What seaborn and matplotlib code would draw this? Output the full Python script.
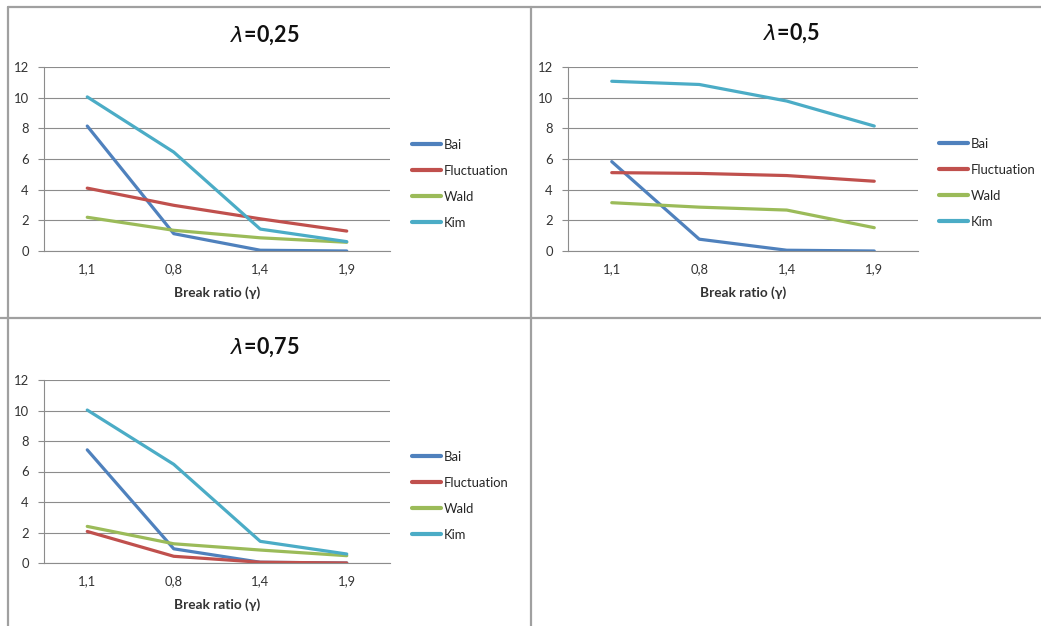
import numpy as np
import pandas as pd
import matplotlib
matplotlib.use("Agg")
import matplotlib.pyplot as plt
from matplotlib.lines import Line2D
import seaborn as sns

# Break ratio categories (x axis) and estimated values per method, one set per lambda
ratios = ["1,1", "0,8", "1,4", "1,9"]
methods = ["Bai", "Fluctuation", "Wald", "Kim"]

bai_025 = [8.15, 1.13, 0.05, 0.0]
fluct_025 = [4.1, 2.98, 2.1, 1.3]
wald_025 = [2.2, 1.35, 0.86, 0.57]
kim_025 = [10.05, 6.45, 1.43, 0.61]

bai_050 = [5.83, 0.77, 0.05, 0.0]
fluct_050 = [5.11, 5.06, 4.92, 4.55]
wald_050 = [3.15, 2.86, 2.67, 1.52]
kim_050 = [11.07, 10.86, 9.78, 8.15]

bai_075 = [7.42, 0.93, 0.05, 0.0]
fluct_075 = [2.07, 0.44, 0.05, 0.0]
wald_075 = [2.4, 1.26, 0.85, 0.48]
kim_075 = [10.03, 6.47, 1.42, 0.59]

panel_titles = ["0,25", "0,5", "0,75"]
panel_series = [
    [bai_025, fluct_025, wald_025, kim_025],
    [bai_050, fluct_050, wald_050, kim_050],
    [bai_075, fluct_075, wald_075, kim_075],
]
y_ticks = [0, 2, 4, 6, 8, 10, 12]

palette = {"Bai": "#4F81BD", "Fluctuation": "#C0504D", "Wald": "#9BBB59", "Kim": "#4BACC6"}

sns.set_theme(style="white")
plt.rcParams["font.family"] = ["Lato", "DejaVu Sans"]
plt.rcParams["mathtext.fontset"] = "dejavusans"

W, H = 1041, 626
fig = plt.figure(figsize=(W / 100, H / 100), dpi=100)
fig.patch.set_facecolor("white")


def fx(px):
    return px / W


def fy(py):
    return 1 - py / H


# axes box (left, right, top, bottom) in pixels, plus title centre and legend anchor
layouts = [
    dict(l=44, r=390, t=67, b=251, title=(265, 35), leg=(412, 139)),
    dict(l=568, r=918, t=67, b=251, title=(792, 33), leg=(939, 138)),
    dict(l=44, r=390, t=380, b=563, title=(265, 347), leg=(412, 451)),
]

grid_col = "#8C8C8C"
text_col = "#333333"
fs = 9.4

for lay, ttl, series in zip(layouts, panel_titles, panel_series):
    ax = fig.add_axes([fx(lay["l"]), fy(lay["b"]), fx(lay["r"] - lay["l"]), (lay["b"] - lay["t"]) / H])
    df = pd.DataFrame({
        "ratio": np.tile(ratios, len(methods)),
        "method": np.repeat(methods, len(ratios)),
        "value": np.concatenate(series),
    })
    sns.lineplot(data=df, x="ratio", y="value", hue="method", hue_order=methods,
                 palette=palette, sort=False, linewidth=2.3, ax=ax, legend=True)
    ax.set_xlim(-0.5, 3.5)
    ax.set_ylim(0, 12)
    ax.set_yticks(y_ticks)
    ax.set_yticklabels([str(v) for v in y_ticks], fontsize=fs, color=text_col)
    ax.set_xticks(range(len(ratios)))
    ax.set_xticklabels(ratios, fontsize=fs, color=text_col)
    ax.set_xticks(np.arange(-0.5, 4.0, 1.0), minor=True)
    ax.tick_params(axis="x", which="major", length=0, pad=9)
    ax.tick_params(axis="x", which="minor", length=4, width=0.8, color=grid_col, direction="out")
    ax.tick_params(axis="y", which="major", length=4, width=0.8, color=grid_col, direction="out", pad=7, left=True)
    ax.yaxis.grid(True, color=grid_col, linewidth=0.8)
    ax.set_axisbelow(True)
    for side in ("top", "right"):
        ax.spines[side].set_visible(False)
    for side in ("left", "bottom"):
        ax.spines[side].set_color(grid_col)
        ax.spines[side].set_linewidth(0.8)
    ax.set_ylabel("")
    ax.set_xlabel("Break ratio (\u03b3)", fontsize=9.8, fontweight="bold", color=text_col)
    ax.xaxis.label.set_va("center")
    ax.xaxis.set_label_coords(0.5, -42 / (lay["b"] - lay["t"]))

    handles = [Line2D([0], [0], color=palette[m], linewidth=3) for m in methods]
    ax.legend(handles, methods, loc="upper left",
              bbox_to_anchor=(fx(lay["leg"][0]), fy(lay["leg"][1])),
              bbox_transform=fig.transFigure, frameon=False, fontsize=fs,
              handlelength=2.2, handletextpad=0.2, labelspacing=1.07,
              borderaxespad=0, borderpad=0)

    fig.text(fx(lay["title"][0]), fy(lay["title"][1]), r"$\lambda$=" + ttl,
             ha="center", va="center", fontsize=15.5, fontweight="bold", color="#111111")

# Table-style cell borders around the panels
border = "#A0A0A0"
for x0, y0, x1, y1 in [(8, 7, 1041, 7), (8, 7, 8, 626), (531, 7, 531, 626), (0, 318, 1041, 318)]:
    fig.add_artist(Line2D([fx(x0), fx(x1)], [fy(y0), fy(y1)], color=border, linewidth=1.6,
                          transform=fig.transFigure))

fig.savefig("out.png", dpi=100, facecolor="white")
